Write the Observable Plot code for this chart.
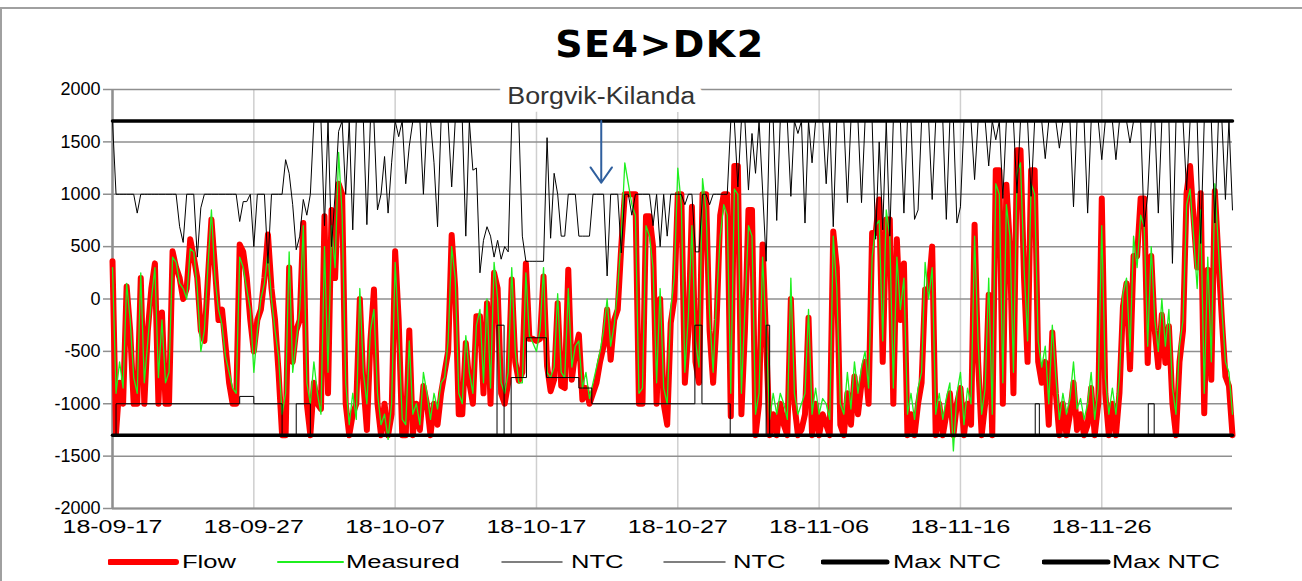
<!DOCTYPE html>
<html><head><meta charset="utf-8">
<script src="https://cdn.jsdelivr.net/npm/d3@7"></script>
<script src="https://cdn.jsdelivr.net/npm/@observablehq/plot@0.6"></script>
<style>
html,body{margin:0;padding:0;background:#fff;}
body{width:1302px;height:581px;position:relative;overflow:hidden;font-family:"Liberation Sans",Arial,sans-serif;}
#frame{position:absolute;left:0;top:7px;width:1310px;height:590px;border-top:2px solid #a0a0a0;border-left:2px solid #a0a0a0;}
#title{position:absolute;top:22px;left:0;width:1302px;text-align:center;font-family:"DejaVu Sans";font-weight:bold;font-size:38px;letter-spacing:1.5px;color:#000;padding-left:18px;box-sizing:border-box;}
#chart{position:absolute;left:0;top:75px;}
.item{position:absolute;top:550px;height:24px;}
.item svg{position:absolute;top:0;}
.item span{position:absolute;top:2px;font-size:18px;white-space:nowrap;transform:scaleX(1.42);transform-origin:left center;color:#000;}
</style></head>
<body>
<div id="frame"></div>
<div id="title">SE4&gt;DK2</div>
<div id="chart"></div>
<div id="legend"></div>
<script>
// ---- data (6-hour steps from 2018-09-17 00:00) ----
const startIso = "2018-09-17T00:00:00Z";
const endIso = "2018-12-05T06:00:00Z";
const stepHours = 6;

// Flow (MW), 4 values per day
const flow = [
 360,-1280,-800,-1000,  120,-300,-1000,-1000,  200,-1000,-300,100,  340,-1000,-130,-1000,
 -1000,455,300,200,  0,100,570,400,  200,-300,-400,200,  760,300,-200,-100,
 -450,-800,-1000,-1000,  520,450,200,-200,  -500,-200,-100,200,  615,100,-200,-700,
 -1300,-1300,300,-600,  -300,-200,725,-1000,  -1300,-800,-1000,-1050,  790,-900,850,200,
 1100,1000,-1000,-1300,  -1100,-1000,0,-800,  -1250,-400,90,-1000,  -1300,-1000,-1300,-1100,
 455,-200,-1300,-1300,  -300,-1300,-1000,-1250,  -830,-1000,-1300,-1000,  -1200,-900,-700,-500,
 610,100,-1100,-1100,  -420,-800,-1000,-165,  -165,-900,-40,-1000,  250,100,-900,-1000,
 -800,185,-600,-780,  -700,340,-380,-380,  -400,-380,215,-640,  -880,-770,-40,-830,
 -850,280,-770,-500,  -340,-960,-850,-1000,  -900,-800,-600,-450,  -100,-580,-200,-100,
 500,1000,1000,1000,  1000,-1000,-1000,790,  790,500,-1000,0,  -1000,-1200,-230,0,
 1000,1000,-800,-300,  880,-600,-800,1000,  1000,-300,-800,-200,  800,1000,1000,-1120,
 1270,1270,-1100,-300,  850,850,-1300,-1000,  520,-400,-1300,-1100,  -1300,-1000,-1200,-1300,
 0,-1000,-1300,-1250,  -1100,-180,-1300,-1000,  -1300,-1100,-1200,-1300,  645,300,-1200,-1300,
 -900,-1200,-740,-1100,  -800,-600,-1000,630,  630,950,-600,760,  760,-1000,570,-200,
 340,-1300,-1100,-1300,  -1000,-800,90,90,  500,-1300,-1000,-1300,  -1100,-900,-1300,-1000,
 -850,-1300,-1000,-1200,  710,-600,-1300,-1000,  40,-1300,1230,1230,  -1000,1090,500,-900,
 1420,1420,200,-600,  1230,1230,-600,-800,  -600,-1200,-320,-900,  -1300,-1000,-1300,-1100,
 -800,-1250,-1100,-1300,  -1200,-850,-1300,-1000,  960,-900,-1300,-1000,  -1300,-900,-70,150,
 -670,410,410,960,  960,-610,410,-300,  -650,-150,-610,-260,  -1000,-1300,-600,-300,
 1010,1270,760,300,  1010,-1090,280,-770,  1030,410,-200,-740,  -830,-1300
];

// Measured (MW), 4 values per day
const measured = [
 300,-900,-600,-850,  150,-200,-750,-900,  250,-800,-400,0,  300,-750,-200,-800,
 -700,400,350,150,  100,0,480,450,  100,-500,-300,300,  850,200,-100,-250,
 -550,-700,-850,-900,  400,300,100,-100,  -700,-300,0,150,  450,0,-300,-550,
 -1100,-900,450,-700,  -400,-100,700,-800,  -1000,-600,-900,-1100,  500,-700,700,300,
 1400,800,-800,-1200,  -900,-1150,100,-700,  -1000,-300,-100,-900,  -1200,-1100,-1340,-1000,
 350,-300,-1150,-1200,  -400,-1100,-1000,-1200,  -700,-900,-1150,-900,  -1050,-800,-750,-400,
 500,200,-900,-1000,  -350,-700,-900,-250,  -100,-800,0,-850,  350,0,-800,-900,
 -700,300,-500,-800,  -800,250,-350,-420,  -500,-300,300,-700,  -750,-650,50,-700,
 -750,100,-650,-450,  -400,-850,-700,-950,  -800,-650,-500,-300,  0,-450,-250,100,
 600,1300,1100,900,  800,-900,-850,700,  600,300,-800,100,  -850,-1000,-100,200,
 1250,900,-700,-150,  700,-400,-650,1150,  850,-150,-700,0,  600,900,800,-900,
 1050,1000,-900,-100,  700,600,-1100,-900,  400,-300,-1150,-900,  -1100,-900,-1000,-1150,
 200,-900,-1100,-1000,  -900,-100,-1100,-850,  -1100,-950,-1000,-1150,  600,100,-1000,-1100,
 -700,-1050,-600,-900,  -650,-500,-850,400,  700,750,-400,850,  600,-850,400,-100,
 200,-1100,-900,-1150,  -850,-700,350,0,  300,-1100,-900,-1150,  -950,-800,-1450,-900,
 -700,-1200,-850,-1000,  600,-400,-1100,-850,  200,-1100,1100,1000,  -800,900,600,-700,
 1200,1300,300,-400,  1100,1000,-400,-650,  -450,-1000,-250,-750,  -1150,-900,-1100,-950,
 -600,-1050,-950,-1150,  -1000,-700,-1150,-850,  700,-750,-1100,-850,  -1100,-750,50,200,
 -500,600,300,800,  700,-450,500,-200,  -500,0,-450,-100,  -850,-1100,-450,-200,
 900,1050,600,100,  850,-900,400,-600,  1100,500,-100,-600,  -700,-1100
];

// NTC export direction (MW), 4 values per day
const ntcExport = [
 1700,1000,1000,1000,  1000,1000,1000,820,  1000,1000,1000,1000,  1000,1000,1000,1000,
 1000,1000,1000,690,  540,1000,1000,1000,  400,870,1000,1000,  1000,1000,1000,1000,
 1000,1000,1000,1000,  740,930,930,1000,  500,1000,1000,1000,  340,1000,1000,1000,
 1000,1330,1200,900,  470,600,950,800,  1000,1700,1700,1700,  700,1700,500,1000,
 1600,1700,1000,1700,  660,1700,1700,1700,  710,1700,1700,850,  1000,1360,820,1300,
 1700,1550,1700,1100,  1460,1700,1700,1700,  1000,1700,1700,1300,  690,1700,1700,1700,
 1070,1700,1700,1700,  600,1700,1230,1250,  250,560,690,600,  400,560,380,500,
 450,1700,1700,1700,  600,360,360,360,  360,360,360,1540,  580,1200,1000,600,
 600,1000,1000,1000,  600,600,600,600,  1000,1000,1000,1000,  220,1000,1000,1000,
 440,1000,1000,800,  1000,1000,1000,1000,  1000,700,1000,500,  1000,600,1000,1000,
 1000,1000,900,1000,  1000,450,450,1000,  1000,900,1000,1000,  1000,1000,1000,1700,
 1700,1070,1700,1700,  1040,1580,1200,1700,  1040,360,1700,1700,  750,1700,1700,1700,
 980,1700,1580,1700,  725,1700,1300,1700,  1700,1700,1100,1700,  690,1700,1700,1700,
 920,1700,1700,1700,  920,1700,1700,1700,  570,1500,660,1700,  600,1700,1700,1700,
 820,1700,1700,760,  850,1700,1700,1700,  950,1700,1700,1700,  760,1700,1700,725,
 880,1700,1700,1700,  1140,1700,1700,1700,  1270,1700,1520,1700,  960,1700,1700,1700,
 1010,1700,1700,1700,  980,1700,1700,1700,  1340,1700,1700,1700,  1440,1700,1700,1700,
 880,1700,1700,1700,  820,1700,1700,1700,  1330,1700,1700,1700,  1330,1700,1700,1700,
 1490,1700,1700,1700,  690,1000,1700,1700,  820,1700,1700,1700,  340,1700,1700,1700,
 1040,1700,1700,1700,  530,1700,1700,1700,  725,1700,1700,950,  1700,850
];

// NTC import direction (MW): value changes (step line)
const ntcImportTimes = [
 "2018-09-17T00:00","2018-09-17T06:00","2018-09-26T00:00","2018-09-27T00:00","2018-09-29T00:00",
 "2018-09-30T00:00","2018-10-01T00:00","2018-10-14T05:00","2018-10-14T17:00","2018-10-15T05:00",
 "2018-10-16T07:00","2018-10-17T17:00","2018-10-20T00:00","2018-10-20T22:00","2018-10-28T05:00",
 "2018-10-28T17:00","2018-10-30T17:00","2018-11-02T06:00","2018-11-02T12:00","2018-11-21T07:00",
 "2018-11-21T14:00","2018-11-29T07:00","2018-11-29T17:00","2018-12-05T03:00"
];
const ntcImportValues = [
 -1300,-1000,-930,-1000,-1300,
 -1000,-1300,-250,-1300,-750,
 -370,-750,-850,-1000,-250,
 -1000,-1300,-250,-1300,-1000,
 -1300,-1000,-1300,-1300
];

// Max NTC levels
const maxNtcSeries = ["Max NTC export", "Max NTC import"];
const maxNtcValues = [1700, -1300];

// Axes
const yTicks = [-2000,-1500,-1000,-500,0,500,1000,1500,2000];
const xTickIso = ["2018-09-17","2018-09-27","2018-10-07","2018-10-17","2018-10-27","2018-11-06","2018-11-16","2018-11-26"];

// Annotation
const annotationText = ["Borgvik-Kilanda"];
const annotationIso = ["2018-10-21T14:00"];
const annotationY = [1935];
const arrowFrom = [1700];
const arrowTo = [1110];

// ---- build rows ----
const start = new Date(startIso);
const end = new Date(endIso);
const stepMs = stepHours * 3600 * 1000;
const rows = arr => arr.map((v, i) => ({date: new Date(start.getTime() + i * stepMs), value: v}));
const flowRows = rows(flow);
const measRows = rows(measured);
const ntcExpRows = rows(ntcExport);
const ntcImpRows = ntcImportTimes.map((t, i) => ({date: new Date(t + ":00Z"), value: ntcImportValues[i]}));
const maxRows = maxNtcSeries.flatMap((s, i) => [{series: s, date: start, value: maxNtcValues[i]}, {series: s, date: end, value: maxNtcValues[i]}]);
const xTicks = xTickIso.map(s => new Date(s + "T00:00:00Z"));
const annot = annotationText.map((t, i) => ({label: t, date: new Date(annotationIso[i] + ":00Z"), y: annotationY[i], y1: arrowFrom[i], y2: arrowTo[i]}));

const gridColor = "#8f8f8f";
const chart = Plot.plot({
  width: 1302, height: 460,
  marginLeft: 112, marginRight: 70, marginTop: 14, marginBottom: 27,
  style: {fontFamily: "Liberation Sans, Arial, sans-serif", fontSize: "18px", color: "#000", background: "transparent", overflow: "visible"},
  x: {type: "utc", domain: [start, end], label: null},
  y: {domain: [-2000, 2000], label: null},
  marks: [
    Plot.gridX(xTicks, {stroke: "#cfcfcf", strokeOpacity: 1, strokeWidth: 1.5}),
    Plot.gridY(yTicks, {stroke: gridColor, strokeOpacity: 1, strokeWidth: 1.5}),
    Plot.axisY(yTicks, {tickSize: 9, tickPadding: 3, stroke: gridColor, strokeWidth: 1.5, tickFormat: d => String(d), label: null}),
    Plot.axisX(xTicks, {tickSize: 0, tickPadding: 12, tickFormat: d3.utcFormat("%y-%m-%d"), label: null}),
    Plot.ruleX([start], {stroke: gridColor, strokeWidth: 2.5}),
    Plot.ruleY([-2000], {stroke: gridColor, strokeWidth: 2}),
    Plot.lineY(flowRows, {x: "date", y: "value", stroke: "#ff0000", strokeWidth: 6, strokeLinejoin: "round"}),
    Plot.lineY(measRows, {x: "date", y: "value", stroke: "#1fef1f", strokeWidth: 1.3}),
    Plot.lineY(ntcExpRows, {x: "date", y: "value", stroke: "#000", strokeWidth: 1}),
    Plot.lineY(ntcImpRows, {x: "date", y: "value", stroke: "#000", strokeWidth: 1, curve: "step-after"}),
    Plot.lineY(maxRows, {x: "date", y: "value", z: "series", stroke: "#000", strokeWidth: 3.5}),
    Plot.text(annot, {x: "date", y: "y", text: "label", fontSize: 23, fill: "#333", stroke: "white", strokeWidth: 16}),
    Plot.arrow(annot, {x1: "date", x2: "date", y1: "y1", y2: "y2", stroke: "#2f5f9e", strokeWidth: 2, headLength: 14, headAngle: 70})
  ]
});
document.getElementById("chart").appendChild(chart);
chart.querySelectorAll('g[aria-label="x-axis tick label"] text').forEach(t => {
  t.setAttribute("textLength", 100); t.setAttribute("lengthAdjust", "spacingAndGlyphs");
});
chart.querySelectorAll('g[aria-label="text"] text').forEach(t => {
  t.setAttribute("textLength", 188); t.setAttribute("lengthAdjust", "spacingAndGlyphs");
});

// ---- legend ----
const legendItems = [
  {label: "Flow", color: "#ff0000", width: 6, x0: 108, x1: 176, tx: 182},
  {label: "Measured", color: "#1fef1f", width: 2, x0: 276, x1: 343, tx: 346},
  {label: "NTC", color: "#555", width: 1.5, x0: 500, x1: 562, tx: 571},
  {label: "NTC", color: "#555", width: 1.5, x0: 662, x1: 725, tx: 733},
  {label: "Max NTC", color: "#000", width: 5, x0: 821, x1: 887, tx: 893},
  {label: "Max NTC", color: "#000", width: 5, x0: 1042, x1: 1108, tx: 1112}
];
const legend = document.getElementById("legend");
legendItems.forEach(it => {
  const d = document.createElement("div");
  d.className = "item";
  d.style.left = it.x0 + "px";
  d.innerHTML = `<svg width="${it.x1 - it.x0 + 4}" height="24"><line x1="2" x2="${it.x1 - it.x0}" y1="12" y2="12" stroke="${it.color}" stroke-width="${it.width}" stroke-linecap="round"/></svg><span style="left:${it.tx - it.x0}px">${it.label}</span>`;
  legend.appendChild(d);
});
</script>
</body></html>
